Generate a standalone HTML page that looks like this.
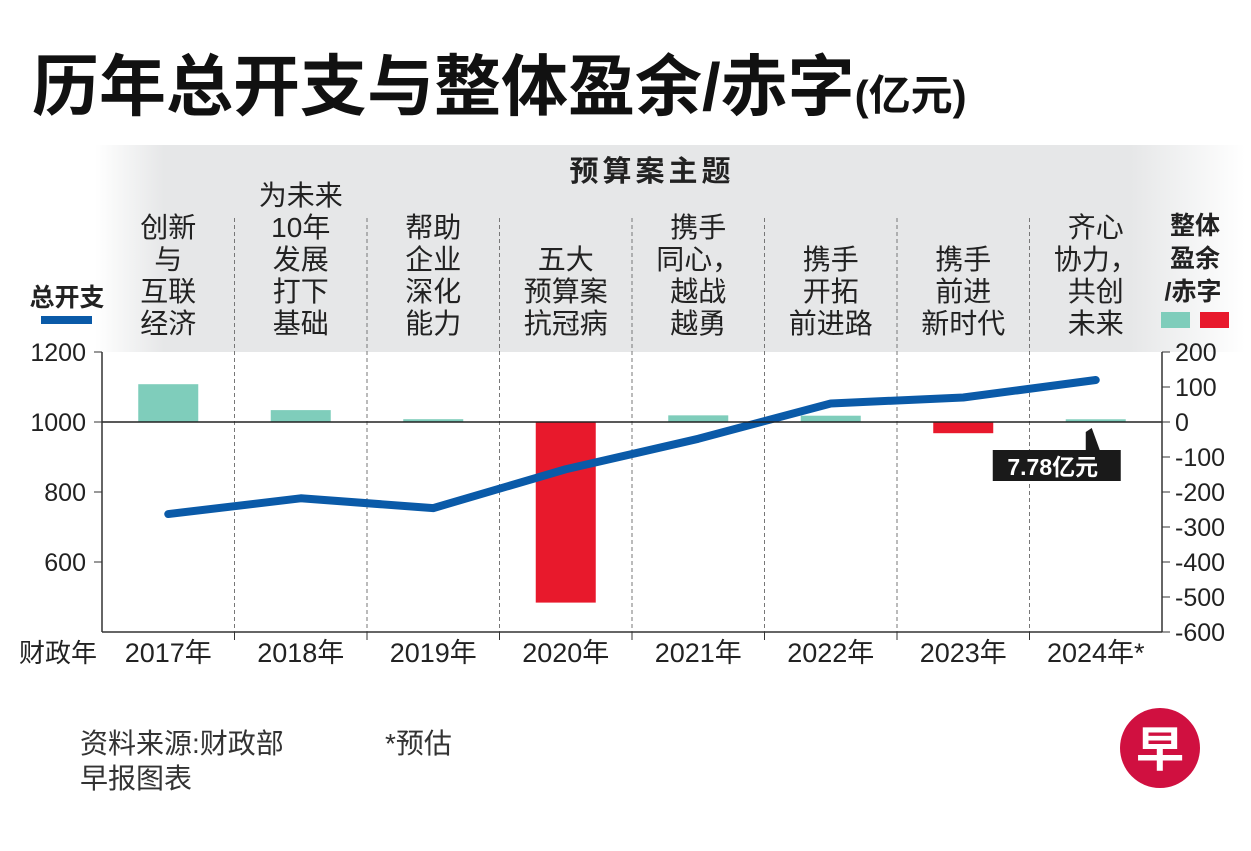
<!DOCTYPE html>
<html><head><meta charset="utf-8">
<style>
html,body{margin:0;padding:0;background:#fff;}
body{width:1251px;height:846px;overflow:hidden;position:relative;font-family:"Liberation Sans","Noto Sans CJK SC",sans-serif;}
text{font-family:"Liberation Sans","Noto Sans CJK SC",sans-serif;}
</style></head>
<body>
<svg id="chart" width="1251" height="846" viewBox="0 0 1251 846" xmlns="http://www.w3.org/2000/svg">
<defs>
<linearGradient id="band" x1="0" x2="1" y1="0" y2="0">
<stop offset="0" stop-color="#e6e7e8" stop-opacity="0"/>
<stop offset="0.06" stop-color="#e6e7e8" stop-opacity="1"/>
<stop offset="0.9" stop-color="#e6e7e8" stop-opacity="1"/>
<stop offset="1" stop-color="#e6e7e8" stop-opacity="0"/>
</linearGradient>
</defs>
<text x="32" y="110" font-size="67" font-weight="bold" fill="#111">历年总开支与整体盈余/赤字<tspan font-size="42">(亿元)</tspan></text>
<rect x="95" y="145" width="1150" height="207" fill="url(#band)"/>
<text x="652" y="181" font-size="29" font-weight="bold" fill="#222" text-anchor="middle" letter-spacing="4">预算案主题</text>
<g id="themes"></g>
<g id="grid"></g>
<g id="bars"></g>
<g id="line"></g>
<g id="axes"></g>
<text x="67" y="306" font-size="25" font-weight="bold" fill="#222" text-anchor="middle">总开支</text>
<rect x="41" y="316" width="51" height="8" fill="#0a5aa8"/>
<text x="1195" y="234" font-size="25" font-weight="bold" fill="#222" text-anchor="middle">整体</text>
<text x="1195" y="267" font-size="25" font-weight="bold" fill="#222" text-anchor="middle">盈余</text>
<text x="1193" y="300" font-size="25" font-weight="bold" fill="#222" text-anchor="middle">/赤字</text>
<rect x="1161" y="312" width="29" height="16" fill="#7fcdbb"/>
<rect x="1200" y="312" width="29" height="16" fill="#e8192c"/>
<text x="58" y="662" font-size="26" fill="#222" text-anchor="middle">财政年</text>
<g id="callout"></g>
<text x="80" y="753" font-size="28" fill="#333">资料来源:财政部</text>
<text x="385" y="753" font-size="28" fill="#333">*预估</text>
<text x="80" y="788" font-size="28" fill="#333">早报图表</text>
<circle cx="1160" cy="748" r="40" fill="#d01040"/>
<text x="1160" y="766" font-size="48" font-weight="bold" fill="#fff" text-anchor="middle">早</text>
</svg>
<script>
const years = ["2017年","2018年","2019年","2020年","2021年","2022年","2023年","2024年*"];
const themes = [["创新","与","互联","经济"],["为未来","10年","发展","打下","基础"],["帮助","企业","深化","能力"],["五大","预算案","抗冠病"],["携手","同心，","越战","越勇"],["携手","开拓","前进路"],["携手","前进","新时代"],["齐心","协力，","共创","未来"]];
const spending = [737, 782, 754, 865, 952, 1053, 1070, 1120];
const balance = [108, 34, 8, -516, 19, 18, -32, 7.78];
const leftTicks = [600, 800, 1000, 1200];
const rightTicks = [200, 100, 0, -100, -200, -300, -400, -500, -600];
const calloutLabel = "7.78亿元";

const NS="http://www.w3.org/2000/svg";
const X0=102, X1=1162, YT=352, YB=632;
const colW=(X1-X0)/years.length;
const xC=i=>X0+colW*(i+0.5);
const yL=v=>YB-(v-400)/(1200-400)*(YB-YT);
const yR=v=>YB-(v+600)/(200+600)*(YB-YT);
function mk(tag,attrs,parent){const e=document.createElementNS(NS,tag);for(const k in attrs)e.setAttribute(k,attrs[k]);parent.appendChild(e);return e;}
const gT=document.getElementById('themes'),gG=document.getElementById('grid'),gB=document.getElementById('bars'),gL=document.getElementById('line'),gA=document.getElementById('axes'),gC=document.getElementById('callout');

themes.forEach((lines,i)=>{
  const n=lines.length;
  lines.forEach((s,j)=>{
    const t=mk('text',{x:xC(i),y:333-(n-1-j)*32,'font-size':28,fill:'#222','text-anchor':'middle'},gT);
    
    
    t.textContent=s;
  });
});
for(let i=1;i<years.length;i++){
  const x=X0+colW*i;
  const l=mk('line',{x1:x,x2:x,y1:218,y2:YB,stroke:'#777','stroke-width':1,'stroke-dasharray':'4,3'},gG);
  
  
}
balance.forEach((v,i)=>{
  const y0=yR(0),y1=yR(v);
  const r=mk('rect',{x:xC(i)-30,y:Math.min(y0,y1),width:60,height:Math.max(1.5,Math.abs(y1-y0)),fill:v>=0?'#7fcdbb':'#e8192c'},gB);
  
  
});
const z=mk('line',{x1:X0,x2:X1,y1:yR(0),y2:yR(0),stroke:'#222','stroke-width':1.5},gA);


const p=mk('polyline',{points:spending.map((v,i)=>xC(i)+','+yL(v)).join(' '),fill:'none',stroke:'#0a5aa8','stroke-width':8,'stroke-linecap':'round','stroke-linejoin':'round'},gL);


const la=mk('line',{x1:X0,x2:X0,y1:YT,y2:YB,stroke:'#333','stroke-width':1.5},gA);


const ra=mk('line',{x1:X1,x2:X1,y1:YT,y2:YB,stroke:'#333','stroke-width':1.5},gA);


const ba=mk('line',{x1:X0,x2:X1,y1:YB,y2:YB,stroke:'#333','stroke-width':1.5},gA);


leftTicks.forEach(v=>{
  mk('line',{x1:X0-8,x2:X0,y1:yL(v),y2:yL(v),stroke:'#333'},gA);
  const t=mk('text',{x:X0-16,y:yL(v)+9,'font-size':25,fill:'#222','text-anchor':'end'},gA);
  
  
  t.textContent=v;
});
rightTicks.forEach(v=>{
  mk('line',{x1:X1,x2:X1+8,y1:yR(v),y2:yR(v),stroke:'#333'},gA);
  const t=mk('text',{x:X1+13,y:yR(v)+9,'font-size':25,fill:'#222'},gA);
  
  
  t.textContent=v;
});
years.forEach((s,i)=>{
  if(i>0) mk('line',{x1:X0+colW*i,x2:X0+colW*i,y1:YB,y2:YB+8,stroke:'#333'},gA);
  const t=mk('text',{x:xC(i),y:662,'font-size':27,fill:'#222','text-anchor':'middle'},gA);
  
  
  t.textContent=s;
});
const cx=xC(7);
const cp=mk('polygon',{points:`${cx-10},450 ${cx-10},432 ${cx-4},428 ${cx+4},450`,fill:'#1a1a1a'},gC);


const cb=mk('rect',{x:cx-103,y:450,width:128,height:31,fill:'#1a1a1a'},gC);


const ct=mk('text',{x:cx-43,y:475,'font-size':23,'font-weight':'bold',fill:'#fff','text-anchor':'middle'},gC);


ct.textContent=calloutLabel;
</script>
</body></html>
